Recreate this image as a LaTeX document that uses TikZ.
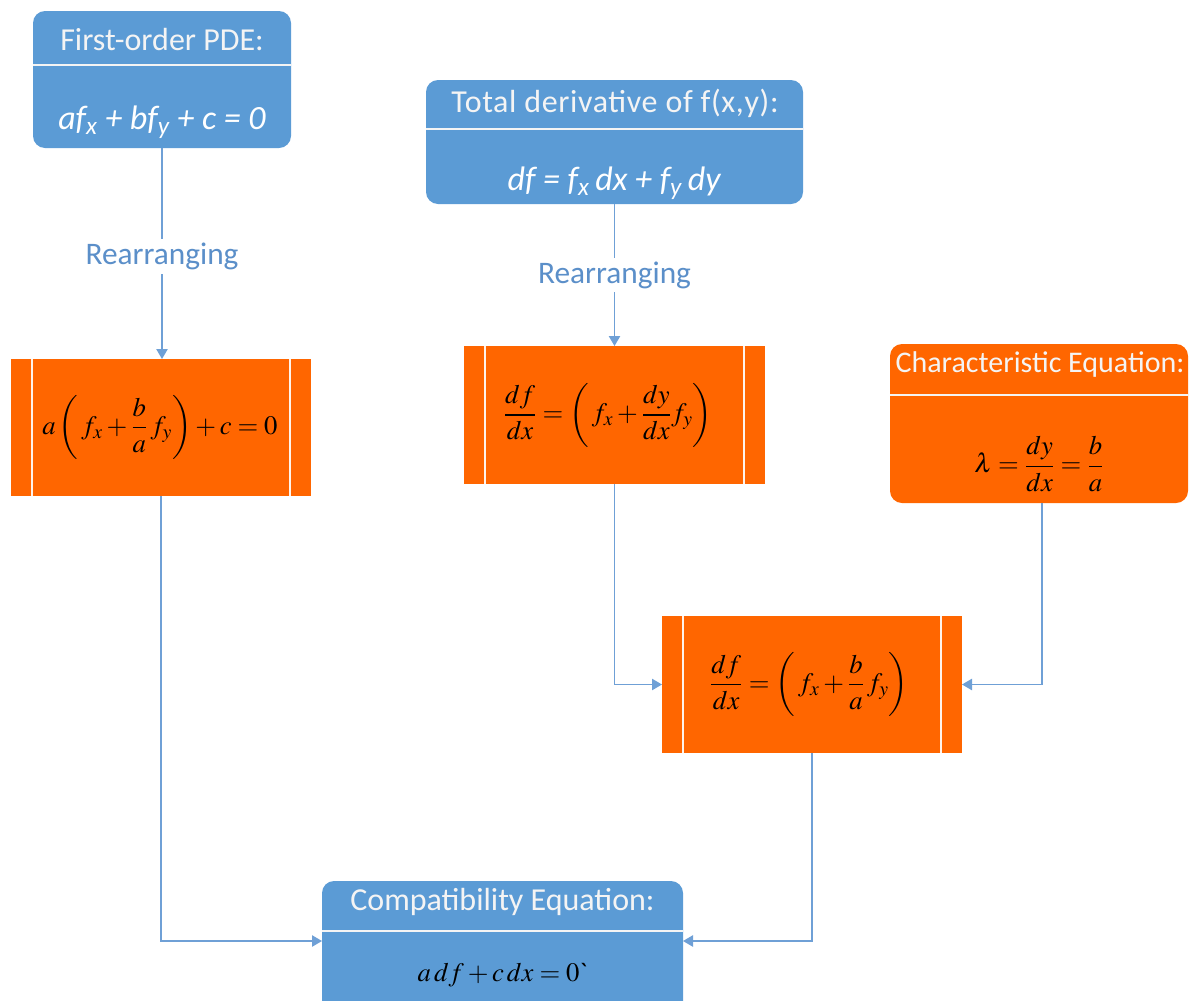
\documentclass[tikz,border=0pt]{standalone}
\usepackage{amsmath}
\usepackage{mathptmx}
\usepackage[no-math]{fontspec}
\setmainfont{Carlito}
\usetikzlibrary{arrows.meta}
\definecolor{cblue}{HTML}{5B9BD5}
\definecolor{corange}{HTML}{FF6600}
\definecolor{cline}{HTML}{6FA0D6}
\definecolor{clabel}{HTML}{5B8FC9}
\definecolor{ctitle}{HTML}{F4F4F4}
\tikzset{
  sz/.style 2 args={minimum width=#1*0.75pt, minimum height=#2*0.75pt, inner sep=0pt, outer sep=0pt},
  bluebox/.style={fill=cblue, draw=none, rounded corners=9pt},
  orbox/.style={fill=corange, draw=none},
  divline/.style={draw=ctitle, line width=1.5pt},
  orline/.style={draw=white!92!corange, line width=1.3pt},
  ttl/.style={text=ctitle, font=\fontsize{24}{28}\selectfont},
  beq/.style={text=white, font=\fontsize{25.5}{30}\selectfont\itshape},
  oeq/.style={text=black, font=\fontsize{20}{24}\selectfont},
  lbl/.style={text=clabel, font=\fontsize{23.5}{28}\selectfont, fill=white, inner sep=3pt},
  conn/.style={draw=cline, line width=1.1pt, -{Triangle[length=7.5pt,width=8.5pt]}},
}
\begin{document}
\begin{tikzpicture}[x=0.75pt,y=-0.75pt]
\useasboundingbox (0,0) rectangle (1189,1000);
\clip (0,0) rectangle (1189,1000);
% boxes
\node[bluebox, sz={258}{137}] (b1) at (162,79.5) {};
\node[bluebox, sz={377}{124}] (b2) at (614.5,142) {};
\node[orbox, sz={300}{137}] (o1) at (161,427.5) {};
\node[orbox, sz={301}{138}] (o2) at (614.5,415) {};
\node[bluebox, fill=corange, sz={298}{159}] (ch) at (1039,423.5) {};
\node[orbox, sz={300}{137}] (o3) at (812,684.5) {};
\node[bluebox, sz={361}{140}] (cp) at (502.5,951) {};
% dividers
\draw[divline] (b1.west |- 0,65) -- (b1.east |- 0,65);
\draw[divline] (b2.west |- 0,129) -- (b2.east |- 0,129);
\draw[divline] (ch.west |- 0,395) -- (ch.east |- 0,395);
\draw[divline] (cp.west |- 0,931) -- (cp.east |- 0,931);
% orange inner lines
\foreach \n in {o1,o2,o3}{
  \draw[orline] ([xshift=15.75pt]\n.north west) -- ([xshift=15.75pt]\n.south west);
  \draw[orline] ([xshift=-15.75pt]\n.north east) -- ([xshift=-15.75pt]\n.south east);
}
% texts
\node[ttl] (t1) at (162,40) {First-order PDE:};
\node[beq] (e1) at (162,122) {af\textsubscript{x} + bf\textsubscript{y} + c = 0};
\node[ttl, font=\fontsize{24}{28}\selectfont\addfontfeatures{LetterSpace=2}] (t2) at (615,103) {Total derivative of f(x,y):};
\node[beq] (e2) at (614,183) {df = f\textsubscript{x}\,dx + f\textsubscript{y}\,dy};
\node[ttl, font=\fontsize{22.5}{27}\selectfont] (t3) at (1040,364) {Characteristic Equation:};
\node[oeq] (e3) at (1039,464) {$\lambda=\dfrac{dy}{dx}=\dfrac{b}{a}$};
\node[ttl] (t4) at (502.5,902) {Compatibility Equation:};
\node[oeq] (e4) at (502.5,975) {$a\,df+c\,dx=0$\textasciigrave};
\node[oeq] (e5) at (160,427.5) {$a\left(\,f_x+\dfrac{b}{a}\,f_y\right)+c=0$};
\node[oeq] (e6) at (608,415) {$\dfrac{df}{dx}=\left(\,f_x+\dfrac{dy}{dx}f_y\right)$};
\node[oeq] (e7) at (809,684.5) {$\dfrac{df}{dx}=\left(\,f_x+\dfrac{b}{a}\,f_y\right)$};
% connectors
\draw[conn] (b1.south) -- node[lbl, yshift=-2pt] (r1) {Rearranging} (b1.south |- o1.north);
\draw[conn] (b2.south) -- node[lbl] (r2) {Rearranging} (o2.north);
\draw[conn] (o1.south) |- ([yshift=7.5pt]cp.west);
\draw[conn] (o2.south) |- (o3.west);
\draw[conn] ([xshift=2.25pt]ch.south) |- (o3.east);
\draw[conn] (o3.south) |- ([yshift=7.5pt]cp.east);
\end{tikzpicture}
\end{document}
